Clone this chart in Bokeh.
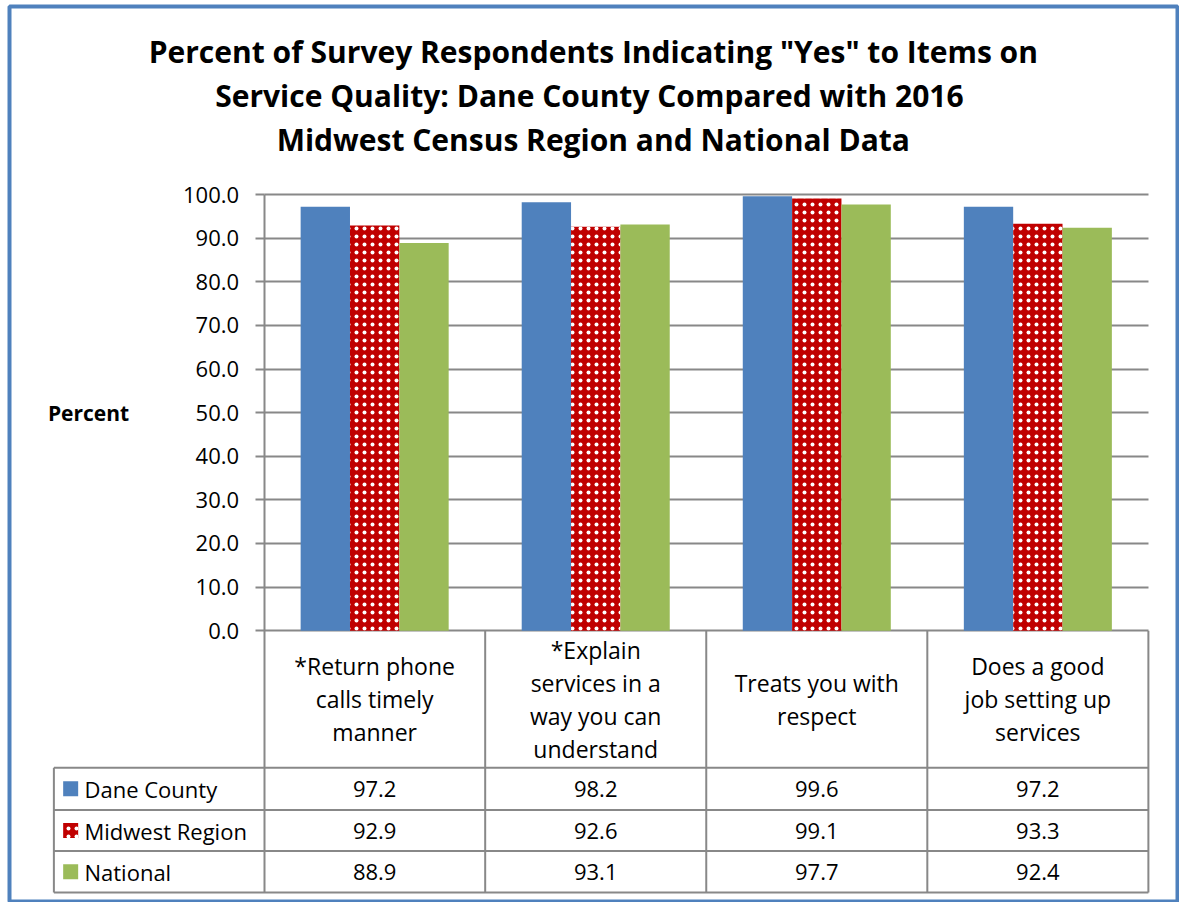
import numpy as np
from bokeh.plotting import figure
from bokeh.models import Range1d, FixedTicker, ColumnDataSource, NumeralTickFormatter
from bokeh.transform import dodge
from bokeh.core.properties import value
from bokeh.embed import file_html
from bokeh.resources import INLINE

# ---------------- data ----------------
title_lines = [
    'Percent of Survey Respondents Indicating "Yes" to Items on',
    'Service Quality:  Dane County Compared with 2016',
    'Midwest Census Region and National Data',
]
categories = [
    "*Return phone\ncalls timely\nmanner",
    "*Explain\nservices in a\nway you can\nunderstand",
    "Treats you with\nrespect",
    "Does a good\njob setting up\nservices",
]
series_names = ["Dane County", "Midwest Region", "National"]
dane_county = [97.2, 98.2, 99.6, 97.2]
midwest_region = [92.9, 92.6, 99.1, 93.3]
national = [88.9, 93.1, 97.7, 92.4]
y_ticks = [0, 10, 20, 30, 40, 50, 60, 70, 80, 90, 100]
y_axis_title = "Percent"

# ---------------- style / layout ----------------
FONT = "Open Sans"
BLUE = "#4F81BD"
RED = "#C00000"
GREEN = "#9BBB59"
LINE = "#888888"
series_values = [dane_county, midwest_region, national]
series_colors = [BLUE, RED, GREEN]
series_hatch = [None, "dot", None]
HATCH = dict(hatch_color="white", hatch_scale=8, hatch_weight=0.2)

W, H = 1179, 902
n = len(categories)
BAR_W = 0.2232
LEG_LEFT = -0.951                       # left edge of legend column
ROWS = [0, -31.4, -41.1, -50.5, -60]    # table row borders
X_RANGE = (-1.1518, 4.1317)
Y_RANGE = (-62.3, 143.1)

p = figure(width=W, height=H, output_backend="svg", toolbar_location=None,
           x_range=Range1d(*X_RANGE), y_range=Range1d(*Y_RANGE),
           x_axis_type=None, title=None,
           min_border_left=9, min_border_right=2, min_border_bottom=0,
           min_border_top=6)
p.outline_line_color = BLUE
p.outline_line_width = 4
p.background_fill_color = "white"
p.border_fill_color = "white"
for g in p.xgrid:
    g.visible = False

# y axis placed at the left edge of the category area
yax = p.yaxis[0]
yax.fixed_location = 0
yax.bounds = (ROWS[-1], y_ticks[-1])
yax.ticker = FixedTicker(ticks=y_ticks)
yax.formatter = NumeralTickFormatter(format="0.0")
yax.major_tick_out = 9
yax.major_tick_in = 0
yax.minor_tick_line_color = None
yax.axis_line_color = LINE
yax.axis_line_width = 2
yax.major_tick_line_color = LINE
yax.major_tick_line_width = 2
yax.major_label_text_font = FONT
yax.major_label_text_font_size = "22px"
yax.major_label_text_color = "black"
yax.major_label_standoff = 16

yg = p.ygrid[0]
yg.ticker = FixedTicker(ticks=y_ticks)
yg.grid_line_color = LINE
yg.grid_line_width = 2
yg.cross_bounds = (0, n)

# title
p.text(x=[1.489] * len(title_lines), y=[132.7 - 10.1 * i for i in range(len(title_lines))],
       text=title_lines, text_align="center", text_baseline="middle",
       text_font=value(FONT), text_font_style="bold", text_font_size="30px",
       text_color="black")

# bars
centers = np.arange(n) + 0.5
for k, (name, vals, col, hatch) in enumerate(zip(series_names, series_values, series_colors, series_hatch)):
    src = ColumnDataSource(dict(x=centers, top=vals))
    kw = dict(hatch_pattern=hatch, **HATCH) if hatch else {}
    p.vbar(x=dodge("x", (k - 1) * BAR_W, range=p.x_range), top="top", bottom=0,
           width=BAR_W, source=src, fill_color=col, line_color=None, **kw)

# table grid lines
hy = ROWS[1:]
p.segment(x0=[LEG_LEFT] * len(hy), x1=[n] * len(hy), y0=hy, y1=hy,
          line_color=LINE, line_width=2)
vx = [LEG_LEFT] + list(range(1, n + 1))
vy0 = [ROWS[1]] + [0] * n
p.segment(x0=vx, x1=vx, y0=vy0, y1=[ROWS[-1]] * len(vx), line_color=LINE, line_width=2)

# category labels
p.text(x=centers, y=[(ROWS[0] + ROWS[1]) / 2] * n, text=categories,
       text_align="center", text_baseline="middle", text_font=value(FONT),
       text_font_size="23px", text_line_height=1.03, text_color="black")

# data rows with legend keys
for k, (name, vals, col, hatch) in enumerate(zip(series_names, series_values, series_colors, series_hatch)):
    yc = (ROWS[k + 1] + ROWS[k + 2]) / 2
    p.text(x=centers, y=[yc] * n, text=[f"{v:.1f}" for v in vals],
           text_align="center", text_baseline="middle", text_font=value(FONT),
           text_font_size="22px", text_color="black")
    kw = dict(hatch_pattern=hatch, **HATCH) if hatch else {}
    p.rect(x=[LEG_LEFT + 17 / 224], y=[yc], width=15, height=15,
           width_units="screen", height_units="screen", fill_color=col, line_color=None, **kw)
    p.text(x=[LEG_LEFT + 31 / 224], y=[yc], text=[name], text_align="left",
           text_baseline="middle", text_font=value(FONT), text_font_size="22px",
           text_color="black")

# y axis title
p.text(x=[-0.978], y=[49.8], text=[y_axis_title], text_align="left",
       text_baseline="middle", text_font=value(FONT), text_font_style="bold",
       text_font_size="21px", text_color="black")

open("out.html", "w").write(file_html(p, INLINE))
